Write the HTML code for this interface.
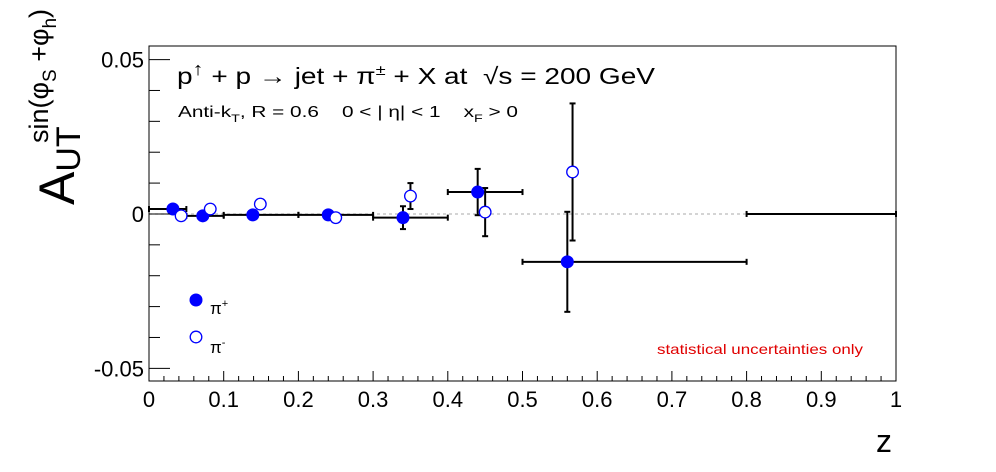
<!DOCTYPE html>
<html><head><meta charset="utf-8"><style>
body{margin:0;background:#fff}
svg{display:block;font-family:"Liberation Sans",sans-serif}
text{white-space:pre}
</style></head><body>
<svg id="c" width="996" height="472" viewBox="0 0 996 472" xmlns="http://www.w3.org/2000/svg" xml:space="preserve">
<rect x="0" y="0" width="996" height="472" fill="#fff"/>
<g id="marks"></g>
<rect x="149" y="46" width="747" height="335" fill="none" stroke="#000" stroke-width="1"/>
<g id="axes"></g>
<text x="177" y="84" font-size="23" textLength="478" lengthAdjust="spacingAndGlyphs">p<tspan dy="-9" font-size="18">↑</tspan><tspan dy="9"> + p → jet + π</tspan><tspan dy="-9" font-size="15">±</tspan><tspan dy="9"> + X at  √s = 200 GeV</tspan></text>
<text x="178" y="117" font-size="16" textLength="340" lengthAdjust="spacingAndGlyphs">Anti-k<tspan dy="5" font-size="11">T</tspan><tspan dy="-5">, R = 0.6    0 &lt; | η| &lt; 1    x</tspan><tspan dy="5" font-size="11">F</tspan><tspan dy="-5"> &gt; 0</tspan></text>
<text x="657" y="354" font-size="14" fill="#e00000" textLength="206" lengthAdjust="spacingAndGlyphs">statistical uncertainties only</text>
<circle cx="196" cy="300" r="6.5" fill="#0000ff"/>
<text x="210" y="314" font-size="17">π<tspan dy="-7" font-size="11">+</tspan></text>
<circle cx="196" cy="337" r="5.8" fill="#fff" stroke="#0000ff" stroke-width="1.3"/>
<text x="210" y="353" font-size="17">π<tspan dy="-7" font-size="11">-</tspan></text>
<text x="876" y="452" font-size="32">z</text>
<g transform="translate(74,205) rotate(-90)">
<text x="0" y="0" font-size="50">A<tspan font-size="34" dy="6">UT</tspan></text>
<text x="62" y="-26" font-size="27">sin(φ<tspan font-size="19" dy="8">S</tspan><tspan dy="-8"> +φ</tspan><tspan font-size="19" dy="8">h</tspan><tspan dy="-8">)</tspan></text>
</g>
</svg>
<script>
const piPlusZ=[0.032,0.072,0.139,0.24,0.34,0.44,0.56];
const piPlusA=[0.0016,-0.0006,-0.0003,-0.0003,-0.0012,0.0071,-0.0155];
const piPlusErr=[0.001,0.001,0.001,0.0012,0.0037,0.0075,0.0162];
const binLo=[0.0,0.05,0.1,0.2,0.3,0.4,0.5];
const binHi=[0.05,0.1,0.2,0.3,0.4,0.5,0.8];
const piMinusZ=[0.043,0.082,0.149,0.25,0.35,0.45,0.567];
const piMinusA=[-0.0006,0.0016,0.0032,-0.0012,0.0058,0.0006,0.0136];
const piMinusErr=[0.001,0.001,0.001,0.0012,0.0042,0.0078,0.0222];
const extraBinLo=[0.8],extraBinHi=[1.0],extraA=[0];
const xTicks=[0,0.1,0.2,0.3,0.4,0.5,0.6,0.7,0.8,0.9,1];
const xTickLabels=["0","0.1","0.2","0.3","0.4","0.5","0.6","0.7","0.8","0.9","1"];
const yTicks=[-0.05,0,0.05];
const yTickLabels=["-0.05","0","0.05"];
const X0=149,X1=896,Y0=381,Y1=46,ymin=-0.0541,ymax=0.0544;
const sx=z=>X0+(z-0)/(1-0)*(X1-X0);
const sy=v=>Y0-(v-ymin)/(ymax-ymin)*(Y0-Y1);
const NS="http://www.w3.org/2000/svg";
function mk(tag,attrs,parent){const e=document.createElementNS(NS,tag);for(const k in attrs)e.setAttribute(k,attrs[k]);parent.appendChild(e);return e;}
const ax=document.getElementById('axes'),mg=document.getElementById('marks');
const zl=mk('line',{x1:X0,x2:X1,y1:sy(0),y2:sy(0),stroke:'#bbb','stroke-width':1.2,'stroke-dasharray':'3,3'},mg);


for(let i=0;i<=50;i++){const z=i*0.02;const major=i%5===0;
 const t=mk('line',{x1:sx(z),x2:sx(z),y1:Y0,y2:Y0-(major?10:5),stroke:'#000','stroke-width':1},ax);
 
 }
xTicks.forEach((z,i)=>{const t=mk('text',{x:sx(z),y:Y0+26,'font-size':22,'text-anchor':'middle'},ax);t.textContent=xTickLabels[i];
 
 });
for(let i=-5;i<=5;i++){const v=i*0.01;const major=i%5===0;
 const t=mk('line',{x1:X0,x2:X0+(major?21:11),y1:sy(v),y2:sy(v),stroke:'#000','stroke-width':1},ax);
 
 }
yTicks.forEach((v,i)=>{const t=mk('text',{x:X0-5,y:sy(v)+8,'font-size':22,'text-anchor':'end'},ax);t.textContent=yTickLabels[i];
 
 });
function errbar(x,y,lo,hi,e,name){
 const g=mk('g',{stroke:'#000','stroke-width':2},mg);
 
 
 if(lo!==null){mk('line',{x1:sx(lo),x2:sx(hi),y1:sy(y),y2:sy(y)},g);
  mk('line',{x1:sx(lo),x2:sx(lo),y1:sy(y)-3,y2:sy(y)+3},g);
  mk('line',{x1:sx(hi),x2:sx(hi),y1:sy(y)-3,y2:sy(y)+3},g);}
 if(e!==null){mk('line',{x1:sx(x),x2:sx(x),y1:sy(y+e),y2:sy(y-e)},g);
  mk('line',{x1:sx(x)-3,x2:sx(x)+3,y1:sy(y+e),y2:sy(y+e)},g);
  mk('line',{x1:sx(x)-3,x2:sx(x)+3,y1:sy(y-e),y2:sy(y-e)},g);}
}
extraBinLo.forEach((lo,i)=>errbar(0,extraA[i],lo,extraBinHi[i],null,'bin-bar-extra'));
piPlusZ.forEach((z,i)=>errbar(z,piPlusA[i],binLo[i],binHi[i],piPlusErr[i],'pi-plus-error'));
piMinusZ.forEach((z,i)=>errbar(z,piMinusA[i],null,null,piMinusErr[i],'pi-minus-error'));
piPlusZ.forEach((z,i)=>{const c=mk('circle',{cx:sx(z),cy:sy(piPlusA[i]),r:6.5,fill:'#0000ff'},mg);
 
 });
piMinusZ.forEach((z,i)=>{const c=mk('circle',{cx:sx(z),cy:sy(piMinusA[i]),r:5.8,fill:'#fff',stroke:'#0000ff','stroke-width':1.3},mg);
 
 });
</script>
</body></html>
